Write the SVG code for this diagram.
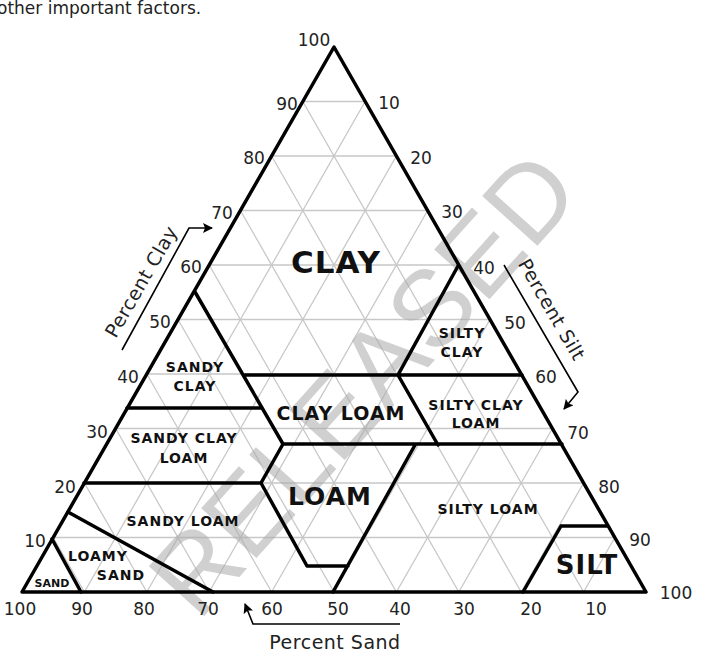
<svg xmlns="http://www.w3.org/2000/svg" width="715" height="670" viewBox="0 0 715 670">
<style>
.g{stroke:#c8c8c8;stroke-width:1.3;fill:none}
.b{stroke:#000;stroke-width:3.5;fill:none;stroke-linejoin:round;stroke-linecap:round}
.t{font-family:"DejaVu Sans",Verdana,sans-serif;font-size:17px;fill:#222;text-anchor:middle}
.x{font-size:19px;letter-spacing:0.5px}
.l{font-family:"DejaVu Sans",Verdana,sans-serif;font-weight:bold;fill:#111;text-anchor:middle}
.s{font-size:14px;letter-spacing:1px}
.a{stroke:#000;stroke-width:1.6;fill:none}
</style>
<defs>
<marker id="ah" viewBox="0 0 10 10" refX="9" refY="5" markerWidth="10" markerHeight="10" markerUnits="userSpaceOnUse" orient="auto"><path d="M0,0L10,5L0,10L2,5z" fill="#000"/></marker>
</defs>
<rect width="715" height="670" fill="#fff"/>
<text x="-3" y="14" style="font-family:'DejaVu Sans',Verdana,sans-serif;font-size:17px;fill:#222">other important factors.</text>
<g id="grid">
<path class="g" d="M53.2,537.5H614.8M84.4,483H583.6M115.6,428.5H552.4M146.8,374H521.2M178,319.5H490M209.2,265H458.8M240.4,210.5H427.6M271.6,156H396.4M302.8,101.5H365.2"/>
<path class="g" d="M84.4,592L365.2,101.5M146.8,592L396.4,156M209.2,592L427.6,210.5M271.6,592L458.8,265M334,592L490,319.5M396.4,592L521.2,374M458.8,592L552.4,428.5M521.2,592L583.6,483M583.6,592L614.8,537.5"/>
<path class="g" d="M84.4,592L53.2,537.5M146.8,592L84.4,483M209.2,592L115.6,428.5M271.6,592L146.8,374M334,592L178,319.5M396.4,592L209.2,265M458.8,592L240.4,210.5M521.2,592L271.6,156M583.6,592L302.8,101.5"/>
</g>
<text x="365" y="420" transform="rotate(-48 365 385)" style="font-family:'Liberation Sans',Arial,sans-serif;font-size:108px;fill:#aaa;fill-opacity:0.55;text-anchor:middle">RELEASED</text>
<g id="connectors">
<path class="b" d="M22,592L334,47L646,592Z"/>
<path class="b" d="M195,292L283,444M245,375H522M458,266L398,375L438,445M127,408H262M283,444H562M283,444L261,483H84M261,483L307,566H348M415,445L333,592M561,526H607M561,526L523,592M68,512L213,592M52,539L81,592"/>
<path class="a" d="M122,350L189,228H212" marker-end="url(#ah)"/>
<path class="a" d="M504,265L578,392L564,409" marker-end="url(#ah)"/>
<path class="a" d="M400,624H253L245,604" marker-end="url(#ah)"/>
</g>
<g id="ticks">
<text class="t" x="314" y="46">100</text><text class="t" x="287" y="110">90</text><text class="t" x="254" y="164">80</text><text class="t" x="222" y="219">70</text><text class="t" x="191" y="273">60</text><text class="t" x="160" y="328">50</text><text class="t" x="128" y="383">40</text><text class="t" x="97" y="438">30</text><text class="t" x="65" y="493">20</text><text class="t" x="35" y="547">10</text>
<text class="t" x="389" y="109">10</text><text class="t" x="421" y="164">20</text><text class="t" x="452" y="218">30</text><text class="t" x="484" y="274">40</text><text class="t" x="515" y="329">50</text><text class="t" x="546" y="383">60</text><text class="t" x="578" y="439">70</text><text class="t" x="609" y="493">80</text><text class="t" x="640" y="546">90</text><text class="t" x="676" y="599">100</text>
<text class="t" x="20" y="615">100</text><text class="t" x="82" y="615">90</text><text class="t" x="144" y="615">80</text><text class="t" x="208" y="615">70</text><text class="t" x="272" y="615">60</text><text class="t" x="338" y="615">50</text><text class="t" x="400" y="615">40</text><text class="t" x="464" y="615">30</text><text class="t" x="531" y="615">20</text><text class="t" x="596" y="615">10</text>
</g>
<g id="axis-labels">
<text class="t x" x="335" y="649">Percent Sand</text>
<text class="t x" x="0" y="0" transform="translate(147,285) rotate(-60)">Percent Clay</text>
<text class="t x" x="0" y="0" transform="translate(546,313) rotate(60)">Percent Silt</text>
</g>
<g id="clay"><text class="l" x="336" y="273" font-size="31" letter-spacing="1">CLAY</text></g>
<g id="silty-clay"><text class="l s" x="462" y="338">SILTY</text><text class="l s" x="462" y="357">CLAY</text></g>
<g id="sandy-clay"><text class="l s" x="195" y="372">SANDY</text><text class="l s" x="195" y="391">CLAY</text></g>
<g id="clay-loam"><text class="l" x="341" y="420" font-size="19" letter-spacing="1">CLAY LOAM</text></g>
<g id="silty-clay-loam"><text class="l s" x="476" y="410">SILTY CLAY</text><text class="l s" x="476" y="428">LOAM</text></g>
<g id="sandy-clay-loam"><text class="l s" x="184" y="443">SANDY CLAY</text><text class="l s" x="184" y="463">LOAM</text></g>
<g id="loam"><text class="l" x="330" y="505" font-size="25" letter-spacing="1">LOAM</text></g>
<g id="silty-loam"><text class="l s" x="488" y="514">SILTY LOAM</text></g>
<g id="sandy-loam"><text class="l s" x="183" y="526">SANDY LOAM</text></g>
<g id="loamy-sand"><text class="l s" x="98" y="561">LOAMY</text><text class="l s" x="121" y="580">SAND</text></g>
<g id="sand"><text class="l" x="52" y="587" font-size="11">SAND</text></g>
<g id="silt"><text class="l" x="587" y="574" font-size="26" letter-spacing="1">SILT</text></g>
</svg>
